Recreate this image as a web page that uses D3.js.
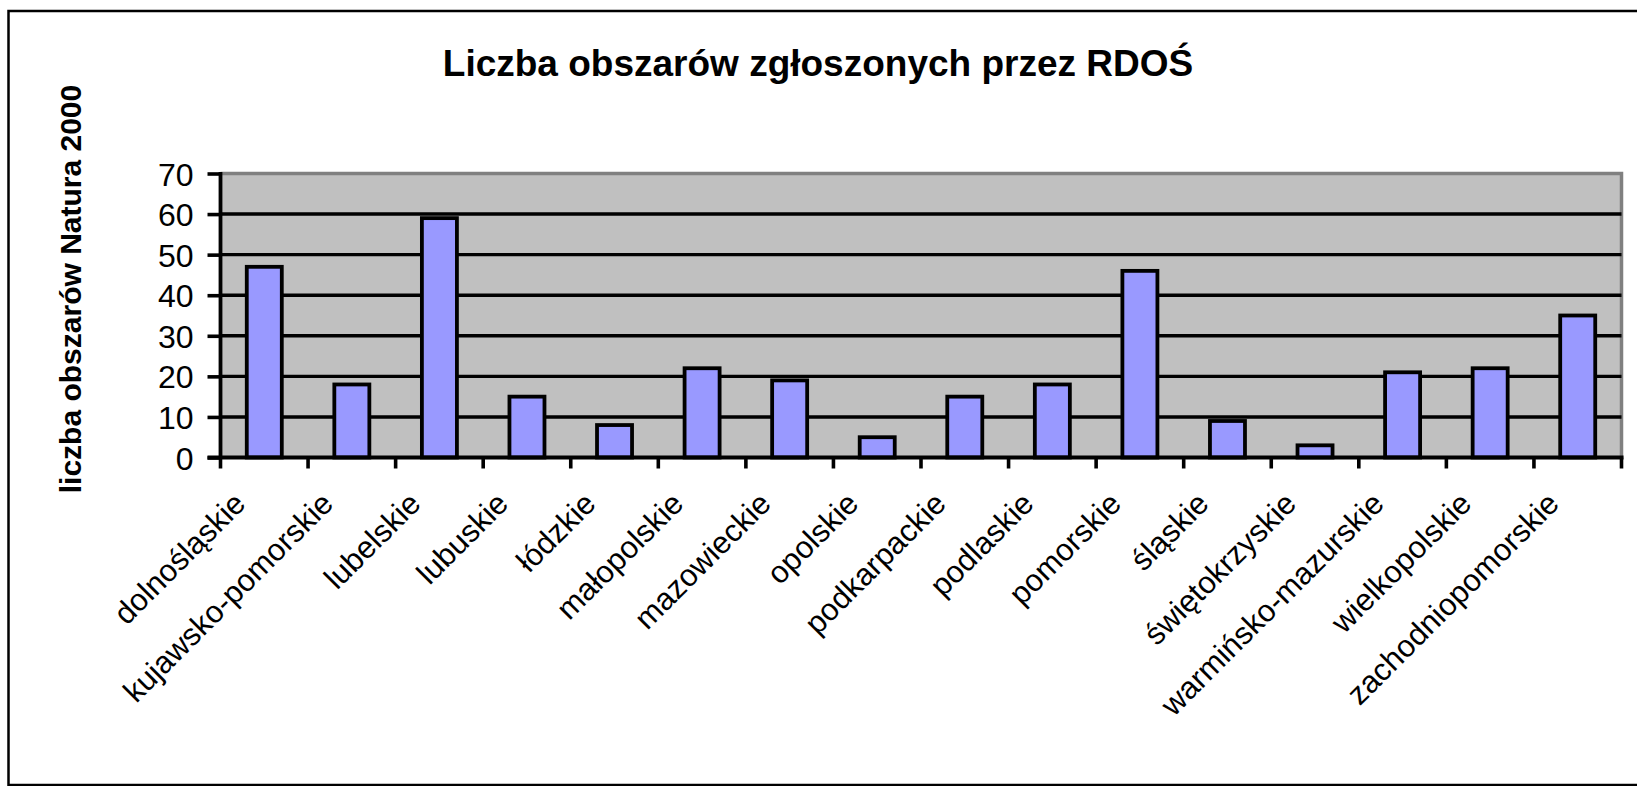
<!DOCTYPE html>
<html>
<head>
<meta charset="utf-8">
<script src="https://cdn.jsdelivr.net/npm/d3@7"></script>
<style>
  html, body { margin: 0; padding: 0; background: #fff; }
  svg { display: block; }
  text { font-family: Arial, "Liberation Sans", sans-serif; fill: #000; }
</style>
</head>
<body>
<svg id="chart" width="1637" height="786"></svg>
<script>
const title = "Liczba obszarów zgłoszonych przez RDOŚ";
const yAxisTitle = "liczba obszarów Natura 2000";
const categories = ["dolnośląskie", "kujawsko-pomorskie", "lubelskie", "lubuskie", "łódzkie",
  "małopolskie", "mazowieckie", "opolskie", "podkarpackie", "podlaskie", "pomorskie",
  "śląskie", "świętokrzyskie", "warmińsko-mazurskie", "wielkopolskie", "zachodniopomorskie"];
const values = [47, 18, 59, 15, 8, 22, 19, 5, 15, 18, 46, 9, 3, 21, 22, 35];
const yTicks = [0, 10, 20, 30, 40, 50, 60, 70];

const svg = d3.select("#chart");
const plot = { left: 220.5, right: 1621.5, top: 173.5, bottom: 457.5 };

// outer chart frame
svg.append("rect").attr("x", 8.5).attr("y", 11).attr("width", 1700).attr("height", 774)
  .attr("fill", "#fff").attr("stroke", "#000").attr("stroke-width", 2.5);

const x = d3.scaleBand().domain(categories).range([plot.left, plot.right]).paddingInner(0.6).paddingOuter(0.3);
const xb = d3.scaleBand().domain(categories).range([plot.left, plot.right]);
const y = d3.scaleLinear().domain([0, 70]).range([plot.bottom, plot.top]);

// plot area
svg.append("rect").attr("x", plot.left).attr("y", plot.top)
  .attr("width", plot.right - plot.left).attr("height", plot.bottom - plot.top)
  .attr("fill", "#c0c0c0");
svg.append("path")
  .attr("d", `M${plot.left},${plot.top}H${plot.right}V${plot.bottom}`)
  .attr("fill", "none").attr("stroke", "#808080").attr("stroke-width", 3.5);

// gridlines
svg.append("g").selectAll("line").data(yTicks.filter(d => d > 0 && d < 70)).join("line")
  .attr("x1", plot.left).attr("x2", plot.right)
  .attr("y1", d => y(d)).attr("y2", d => y(d))
  .attr("stroke", "#000").attr("stroke-width", 3.4);

// bars
svg.append("g").selectAll("rect").data(values).join("rect")
  .attr("x", (d, i) => x(categories[i]))
  .attr("y", d => y(d))
  .attr("width", x.bandwidth())
  .attr("height", d => y(0) - y(d))
  .attr("fill", "#9999ff").attr("stroke", "#000").attr("stroke-width", 3.8);

// y axis
const yAxis = d3.axisLeft(y).tickValues(yTicks).tickSize(13).tickPadding(14);
const gy = svg.append("g").attr("transform", `translate(${plot.left},0)`).call(yAxis);
gy.select(".domain").attr("stroke", "#000").attr("stroke-width", 3.8)
  .attr("d", `M0,${plot.top - 1.5}V${plot.bottom + 1.5}`);
gy.selectAll(".tick line").attr("stroke", "#000").attr("stroke-width", 3.6);
gy.selectAll(".tick text").style("font-size", "32px").style("font-family", "Arial, 'Liberation Sans', sans-serif")
  .attr("fill", "#000").attr("dy", "0.36em");

// x axis
const gx = svg.append("g").attr("transform", `translate(0,${plot.bottom})`);
gx.append("line").attr("x1", plot.left - 13).attr("x2", plot.right + 2)
  .attr("y1", 0).attr("y2", 0).attr("stroke", "#000").attr("stroke-width", 3.8);
const boundaries = categories.map(c => xb(c)).concat([plot.right]);
gx.selectAll("line.tk").data(boundaries).join("line").attr("class", "tk")
  .attr("x1", d => d).attr("x2", d => d).attr("y1", 0).attr("y2", 11)
  .attr("stroke", "#000").attr("stroke-width", 3.6);

svg.append("g").selectAll("text").data(categories).join("text")
  .attr("transform", d => `translate(${xb(d) + xb.bandwidth() / 2 - 17},${plot.bottom + 48}) rotate(-45)`)
  .attr("text-anchor", "end")
  .style("font-size", "31px")
  .text(d => d);

// title
svg.append("text").attr("x", 818).attr("y", 76).attr("text-anchor", "middle")
  .style("font-size", "37px").style("font-weight", "bold").text(title);

// y axis title
svg.append("text").attr("transform", `translate(81,289) rotate(-90)`)
  .attr("text-anchor", "middle").style("font-size", "30px").style("font-weight", "bold")
  .text(yAxisTitle);
</script>
</body>
</html>
